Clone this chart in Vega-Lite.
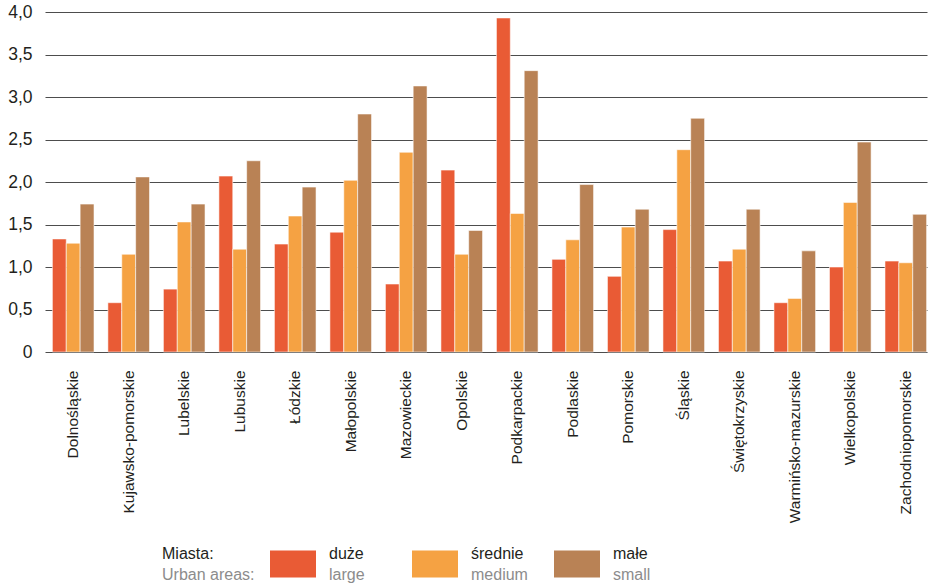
{
  "$schema": "https://vega.github.io/schema/vega-lite/v6.json",
  "padding": {"left": 7, "top": 3, "right": 0, "bottom": 0},
  "config": {"view": {"stroke": null}, "font": "Liberation Sans", "concat": {"spacing": 23}},
  "datasets": {
    "bars": [
      {"region": "Dolnośląskie", "size": "large", "value": 1.33},
      {"region": "Dolnośląskie", "size": "medium", "value": 1.28},
      {"region": "Dolnośląskie", "size": "small", "value": 1.74},
      {"region": "Kujawsko-pomorskie", "size": "large", "value": 0.58},
      {"region": "Kujawsko-pomorskie", "size": "medium", "value": 1.15},
      {"region": "Kujawsko-pomorskie", "size": "small", "value": 2.06},
      {"region": "Lubelskie", "size": "large", "value": 0.74},
      {"region": "Lubelskie", "size": "medium", "value": 1.53},
      {"region": "Lubelskie", "size": "small", "value": 1.74},
      {"region": "Lubuskie", "size": "large", "value": 2.07},
      {"region": "Lubuskie", "size": "medium", "value": 1.21},
      {"region": "Lubuskie", "size": "small", "value": 2.25},
      {"region": "Łódzkie", "size": "large", "value": 1.27},
      {"region": "Łódzkie", "size": "medium", "value": 1.6},
      {"region": "Łódzkie", "size": "small", "value": 1.94},
      {"region": "Małopolskie", "size": "large", "value": 1.41},
      {"region": "Małopolskie", "size": "medium", "value": 2.02},
      {"region": "Małopolskie", "size": "small", "value": 2.8},
      {"region": "Mazowieckie", "size": "large", "value": 0.8},
      {"region": "Mazowieckie", "size": "medium", "value": 2.35},
      {"region": "Mazowieckie", "size": "small", "value": 3.13},
      {"region": "Opolskie", "size": "large", "value": 2.14},
      {"region": "Opolskie", "size": "medium", "value": 1.15},
      {"region": "Opolskie", "size": "small", "value": 1.43},
      {"region": "Podkarpackie", "size": "large", "value": 3.93},
      {"region": "Podkarpackie", "size": "medium", "value": 1.63},
      {"region": "Podkarpackie", "size": "small", "value": 3.31},
      {"region": "Podlaskie", "size": "large", "value": 1.09},
      {"region": "Podlaskie", "size": "medium", "value": 1.32},
      {"region": "Podlaskie", "size": "small", "value": 1.97},
      {"region": "Pomorskie", "size": "large", "value": 0.89},
      {"region": "Pomorskie", "size": "medium", "value": 1.47},
      {"region": "Pomorskie", "size": "small", "value": 1.68},
      {"region": "Śląskie", "size": "large", "value": 1.44},
      {"region": "Śląskie", "size": "medium", "value": 2.38},
      {"region": "Śląskie", "size": "small", "value": 2.75},
      {"region": "Świętokrzyskie", "size": "large", "value": 1.07},
      {"region": "Świętokrzyskie", "size": "medium", "value": 1.21},
      {"region": "Świętokrzyskie", "size": "small", "value": 1.68},
      {"region": "Warmińsko-mazurskie", "size": "large", "value": 0.58},
      {"region": "Warmińsko-mazurskie", "size": "medium", "value": 0.63},
      {"region": "Warmińsko-mazurskie", "size": "small", "value": 1.19},
      {"region": "Wielkopolskie", "size": "large", "value": 1.0},
      {"region": "Wielkopolskie", "size": "medium", "value": 1.76},
      {"region": "Wielkopolskie", "size": "small", "value": 2.47},
      {"region": "Zachodniopomorskie", "size": "large", "value": 1.07},
      {"region": "Zachodniopomorskie", "size": "medium", "value": 1.05},
      {"region": "Zachodniopomorskie", "size": "small", "value": 1.62}
    ],
    "legend": [
      {"size": "title", "pl": "Miasta:", "en": "Urban areas:"},
      {"size": "large", "pl": "duże", "en": "large"},
      {"size": "medium", "pl": "średnie", "en": "medium"},
      {"size": "small", "pl": "małe", "en": "small"}
    ]
  },
  "vconcat": [
    {
      "width": 882,
      "height": 340,
      "data": {"name": "bars"},
      "mark": {"type": "bar", "stroke": "#ffffff", "strokeWidth": 0.8, "strokeOpacity": 0.7},
      "encoding": {
        "x": {
          "field": "region", "type": "nominal", "sort": null,
          "scale": {"paddingInner": 0.25, "paddingOuter": 0.07, "align": 0.95},
          "axis": {"title": null, "labelAngle": -90, "labelFontSize": 15.5, "labelColor": "#231f20", "ticks": false, "domain": false, "labelPadding": 18}
        },
        "xOffset": {"field": "size", "type": "nominal", "sort": ["large", "medium", "small"]},
        "y": {
          "field": "value", "type": "quantitative",
          "scale": {"domain": [0, 4], "nice": false},
          "axis": {
            "title": null, "values": [0, 0.5, 1, 1.5, 2, 2.5, 3, 3.5, 4],
            "grid": true, "gridColor": "#4d4d4d", "gridWidth": 1, "domain": false, "ticks": false,
            "labelFontSize": 17.5, "labelColor": "#231f20", "labelPadding": 13,
            "labelExpr": "datum.value == 0 ? '0' : replace(format(datum.value, '.1f'), '.', ',')"
          }
        },
        "color": {
          "field": "size", "type": "nominal",
          "scale": {"domain": ["large", "medium", "small"], "range": ["#E95B35", "#F5A243", "#B98255"]},
          "legend": null
        }
      }
    },
    {
      "width": 882,
      "height": 36,
      "data": {"name": "legend"},
      "encoding": {
        "x": {"field": "size", "type": "nominal", "scale": {"type": "point", "padding": 0, "domain": ["title", "large", "medium", "small"], "range": [106, 532]}, "axis": null}
      },
      "layer": [
        {
          "transform": [{"filter": "datum.size != 'title'"}],
          "mark": {"type": "point", "shape": "M-1,-0.587H1V0.587H-1Z", "size": 2116, "filled": true, "opacity": 1, "strokeWidth": 0},
          "encoding": {"color": {"field": "size", "type": "nominal", "legend": null}}
        },
        {
          "transform": [{"filter": "datum.size == 'title'"}],
          "mark": {"type": "text", "align": "left", "baseline": "middle", "dx": 11, "dy": -10, "fontSize": 16, "color": "#231f20"},
          "encoding": {"text": {"field": "pl"}}
        },
        {
          "transform": [{"filter": "datum.size == 'title'"}],
          "mark": {"type": "text", "align": "left", "baseline": "middle", "dx": 11, "dy": 11, "fontSize": 16, "color": "#8c8c8c"},
          "encoding": {"text": {"field": "en"}}
        },
        {
          "transform": [{"filter": "datum.size != 'title'"}],
          "mark": {"type": "text", "align": "left", "baseline": "middle", "dx": 36, "dy": -10, "fontSize": 16, "color": "#231f20"},
          "encoding": {"text": {"field": "pl"}}
        },
        {
          "transform": [{"filter": "datum.size != 'title'"}],
          "mark": {"type": "text", "align": "left", "baseline": "middle", "dx": 36, "dy": 11, "fontSize": 16, "color": "#8c8c8c"},
          "encoding": {"text": {"field": "en"}}
        }
      ]
    }
  ]
}
